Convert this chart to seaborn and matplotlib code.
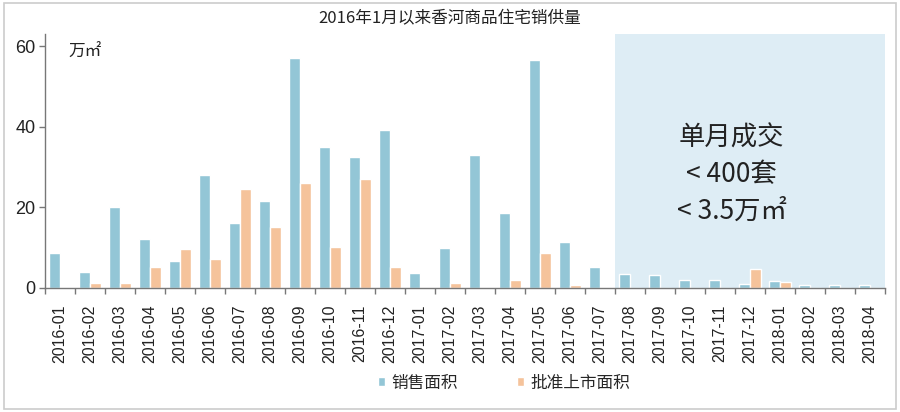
import numpy as np
import pandas as pd
import matplotlib
matplotlib.use("Agg")
import matplotlib.pyplot as plt
import seaborn as sns
from matplotlib.patches import Rectangle

months = ["2016-01", "2016-02", "2016-03", "2016-04", "2016-05", "2016-06", "2016-07",
          "2016-08", "2016-09", "2016-10", "2016-11", "2016-12", "2017-01", "2017-02",
          "2017-03", "2017-04", "2017-05", "2017-06", "2017-07", "2017-08", "2017-09",
          "2017-10", "2017-11", "2017-12", "2018-01", "2018-02", "2018-03", "2018-04"]
sales_area = [8.6, 4.0, 20.0, 12.2, 6.6, 28.0, 16.2, 21.5, 57.2, 35.0, 32.5, 39.3, 3.7, 10.0,
              33.0, 18.6, 56.6, 11.4, 5.3, 3.4, 3.3, 2.1, 2.1, 0.9, 1.8, 0.8, 0.8, 0.7]
approved_area = [0.0, 1.3, 1.3, 5.2, 9.7, 7.2, 24.6, 15.1, 26.0, 10.1, 27.0, 5.1, 0.0, 1.3,
                 0.0, 2.0, 8.6, 0.8, 0.0, 0.0, 0.0, 0.0, 0.0, 4.7, 1.6, 0.0, 0.0, 0.0]
y_ticks = [0, 20, 40, 60]
series_names = ["销售面积", "批准上市面积"]
title = "2016年1月以来香河商品住宅销供量"
unit_label = "万㎡"
annotation = "单月成交\n< 400套\n< 3.5万㎡"

sns.set_theme(style="white")
plt.rcParams['font.family'] = ['Noto Sans CJK SC', 'DejaVu Sans']

df = pd.DataFrame({
    "month": months * 2,
    "value": sales_area + approved_area,
    "series": [series_names[0]] * len(months) + [series_names[1]] * len(months),
})

fig = plt.figure(figsize=(9, 4.12), dpi=100)
ax = fig.add_axes([0.05, 0.301, 0.933, 0.616])

ax.axvspan(18.5, 27.5, ymin=0, ymax=1, color="#deedf5", zorder=0, lw=0)

sns.barplot(data=df, x="month", y="value", hue="series", order=months,
            hue_order=series_names, palette=["#93c6d6", "#f5c39b"],
            width=0.74, gap=0, ax=ax, zorder=2, saturation=1)

ax.set_xlim(-0.5, 27.5)
ax.set_ylim(0, 63)
ax.set_xlabel("")
ax.set_ylabel("")
ax.set_xticks(range(len(months)), months, fontfamily="Liberation Sans", fontsize=11.5,
              rotation=90, color="#222222")
ax.set_yticks(y_ticks, [str(v) for v in y_ticks], fontfamily="Liberation Sans",
              fontsize=13, color="#222222")

for s in ["top", "right"]:
    ax.spines[s].set_visible(False)
for s in ["left", "bottom"]:
    ax.spines[s].set_color("#777777")
    ax.spines[s].set_linewidth(1.0)

ax.tick_params(axis="y", which="major", left=True, length=4, width=1, color="#777777", pad=3)
ax.tick_params(axis="x", which="major", bottom=False, pad=6)
ax.set_xticks(np.arange(-0.5, 28, 1), minor=True)
ax.tick_params(axis="x", which="minor", bottom=True, length=4, width=1, color="#777777")

ax.text(0.028, 0.93, unit_label, transform=ax.transAxes, fontsize=12, color="#222222",
        ha="left", va="center")
ax.text(22.4, 40.5, annotation, fontsize=19, color="#222222", ha="center", va="top",
        linespacing=1.45)

fig.text(0.5, 0.955, title, fontsize=12, color="#222222", ha="center", va="center")

handles, labels = ax.get_legend_handles_labels()
ax.legend(handles, labels, loc="center", bbox_to_anchor=(0.56, 0.07),
          bbox_transform=fig.transFigure, ncol=2, frameon=False, fontsize=12,
          handlelength=0.45, handleheight=0.5, columnspacing=3.5, handletextpad=0.4)

fig.patches.append(Rectangle((0.004, 0.008), 0.992, 0.984, transform=fig.transFigure,
                             fill=False, edgecolor="#cccccc", lw=1.2))

fig.savefig("out.png", dpi=100, facecolor="white")
